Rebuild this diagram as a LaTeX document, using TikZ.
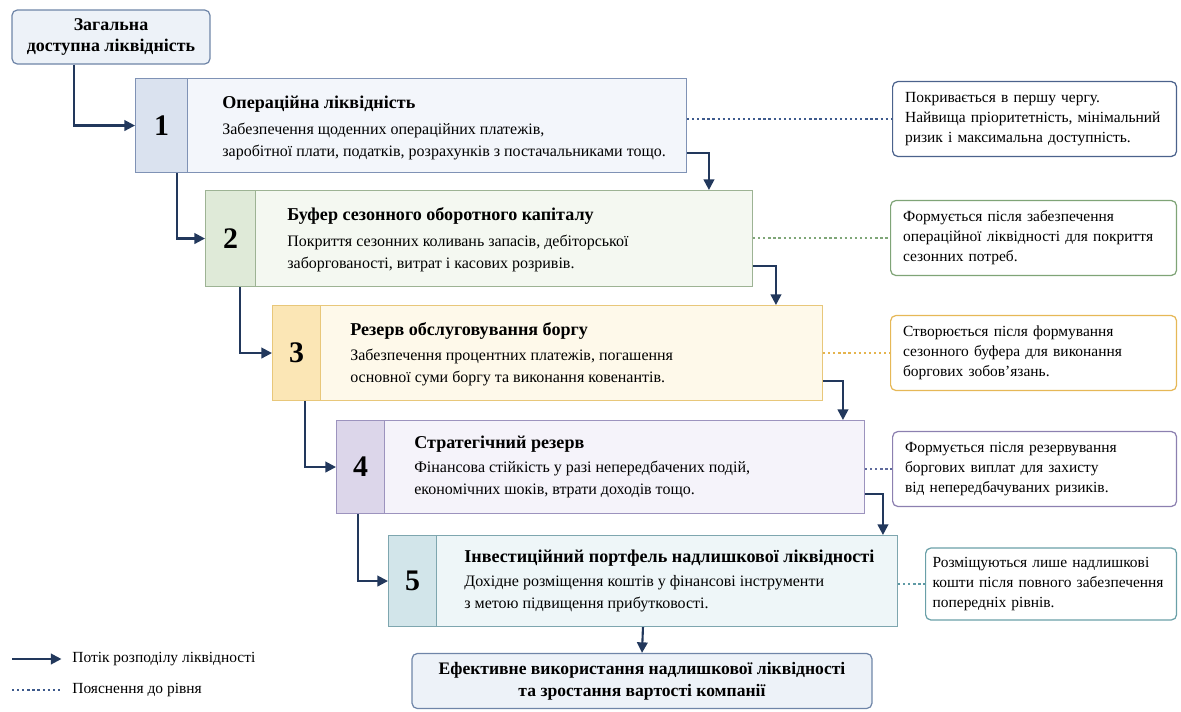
\documentclass[tikz,border=0pt]{standalone}
\usepackage{fontspec}
\setmainfont{Liberation Serif}
\usetikzlibrary{positioning,arrows.meta,calc}
\definecolor{navy}{HTML}{22385C}
% level colours: border, fill, panel
\definecolor{bdA}{HTML}{7F92B5}\definecolor{flA}{HTML}{F3F6FB}\definecolor{pnA}{HTML}{DAE2EF}
\definecolor{bdB}{HTML}{9DB394}\definecolor{flB}{HTML}{F4F8F1}\definecolor{pnB}{HTML}{DFEAD8}
\definecolor{bdC}{HTML}{E8C77A}\definecolor{flC}{HTML}{FEF9EA}\definecolor{pnC}{HTML}{FBE6B5}
\definecolor{bdD}{HTML}{9C93BE}\definecolor{flD}{HTML}{F5F3FA}\definecolor{pnD}{HTML}{DCD6EA}
\definecolor{bdE}{HTML}{7EA6AF}\definecolor{flE}{HTML}{EEF6F8}\definecolor{pnE}{HTML}{D2E5EA}
% note borders and dotted links
\definecolor{ntA}{HTML}{4B628C}\definecolor{dtA}{HTML}{3E5A8C}
\definecolor{ntB}{HTML}{7FA477}\definecolor{dtB}{HTML}{7FA678}
\definecolor{ntC}{HTML}{E6B857}\definecolor{dtC}{HTML}{E5B44E}
\definecolor{ntD}{HTML}{8C80B0}\definecolor{dtD}{HTML}{5F6A9C}
\definecolor{ntE}{HTML}{6AA0A8}\definecolor{dtE}{HTML}{5E9AA5}
\definecolor{srcfl}{HTML}{EDF2F8}\definecolor{srcbd}{HTML}{6F85A8}
\tikzset{
  flow/.style={-{Triangle[length=6pt,width=6pt]},line width=1.2pt,navy},
  expl/.style={line width=1.3pt,dash pattern=on 1.3pt off 1.6pt},
  lvbox/.style={rectangle,draw,line width=0.6pt,anchor=north west,inner sep=0pt},
  numbox/.style={rectangle,draw,line width=0.6pt,anchor=north west,inner sep=0pt,
    font=\bfseries\fontsize{17}{20}\selectfont},
  ttl/.style={anchor=west,inner sep=0pt,font=\bfseries\fontsize{10.3}{12}\selectfont},
  txt/.style={anchor=north west,inner sep=0pt,align=left,font=\fontsize{9.1}{12.4}\selectfont},
  note/.style={rectangle,rounded corners=3pt,draw,line width=0.7pt,fill=white,anchor=west,
    align=left,inner xsep=0.25cm,inner ysep=0pt,minimum height=1.5cm,
    font=\fontsize{8.8}{11.4}\selectfont},
  endbox/.style={rectangle,rounded corners=3pt,draw,line width=0.7pt,align=center,
    font=\bfseries\fontsize{10}{12.5}\selectfont},
  lgd/.style={anchor=west,inner sep=0pt,font=\fontsize{8.8}{10}\selectfont},
}
\begin{document}
\begin{tikzpicture}[x=0.02cm,y=-0.02cm]
  \useasboundingbox (0,0) rectangle (1181,711);
  % source of liquidity
  \node[endbox,draw=srcbd,fill=srcfl,minimum width=3.96cm,minimum height=1.08cm,
    font=\bfseries\fontsize{10.2}{11.6}\selectfont] (src) at (111,37)
    {Загальна\\доступна ліквідність};
  % level 1
  \node[lvbox,draw=bdA,fill=flA,minimum width=11.02cm,minimum height=1.88cm] (lv1) at (135,78) {};
  \node[numbox,draw=bdA,fill=pnA,minimum width=1.04cm,minimum height=1.88cm] (p1) at (lv1.north west) {1};
  \node[ttl] (t1) at (222,104) {Операційна ліквідність};
  \node[txt] (d1) at (222,123) {Забезпечення щоденних операційних платежів,\\
    заробітної плати, податків, розрахунків з постачальниками тощо.};
  % level 2
  \node[lvbox,draw=bdB,fill=flB,minimum width=10.94cm,minimum height=1.92cm] (lv2) at (205,190) {};
  \node[numbox,draw=bdB,fill=pnB,minimum width=1.0cm,minimum height=1.92cm] (p2) at (lv2.north west) {2};
  \node[ttl] (t2) at (287,216) {Буфер сезонного оборотного капіталу};
  \node[txt] (d2) at (287,235) {Покриття сезонних коливань запасів, дебіторської\\
    заборгованості, витрат і касових розривів.};
  % level 3
  \node[lvbox,draw=bdC,fill=flC,minimum width=11.0cm,minimum height=1.9cm] (lv3) at (272,305) {};
  \node[numbox,draw=bdC,fill=pnC,minimum width=0.96cm,minimum height=1.9cm] (p3) at (lv3.north west) {3};
  \node[ttl] (t3) at (350,331) {Резерв обслуговування боргу};
  \node[txt] (d3) at (350,349) {Забезпечення процентних платежів, погашення\\
    основної суми боргу та виконання ковенантів.};
  % level 4
  \node[lvbox,draw=bdD,fill=flD,minimum width=10.56cm,minimum height=1.86cm] (lv4) at (336,420) {};
  \node[numbox,draw=bdD,fill=pnD,minimum width=0.96cm,minimum height=1.86cm] (p4) at (lv4.north west) {4};
  \node[ttl] (t4) at (414,444) {Стратегічний резерв};
  \node[txt] (d4) at (414,461) {Фінансова стійкість у разі непередбачених подій,\\
    економічних шоків, втрати доходів тощо.};
  % level 5
  \node[lvbox,draw=bdE,fill=flE,minimum width=10.18cm,minimum height=1.82cm] (lv5) at (388,535) {};
  \node[numbox,draw=bdE,fill=pnE,minimum width=0.96cm,minimum height=1.82cm] (p5) at (lv5.north west) {5};
  \node[ttl] (t5) at (464,558) {Інвестиційний портфель надлишкової ліквідності};
  \node[txt] (d5) at (464,575) {Дохідне розміщення коштів у фінансові інструменти\\
    з метою підвищення прибутковості.};
  % result
  \node[endbox,draw=srcbd,fill=srcfl,minimum width=9.2cm,minimum height=1.1cm] (fin) at (642,681)
    {Ефективне використання надлишкової ліквідності\\та зростання вартості компанії};
  % notes
  \node[note,draw=ntA,text width=5.18cm] (n1) at (892,119) {Покривається в першу чергу.\\
    Найвища пріоритетність, мінімальний\\ризик і максимальна доступність.};
  \node[note,draw=ntB,text width=5.22cm] (n2) at (890,238) {Формується після забезпечення\\
    операційної ліквідності для покриття\\сезонних потреб.};
  \node[note,draw=ntC,text width=5.22cm] (n3) at (890,353) {Створюється після формування\\
    сезонного буфера для виконання\\боргових зобов’язань.};
  \node[note,draw=ntD,text width=5.18cm] (n4) at (892,469) {Формується після резервування\\
    боргових виплат для захисту\\від непередбачуваних ризиків.};
  \node[note,draw=ntE,text width=4.74cm,inner xsep=0.14cm,minimum height=1.44cm] (n5) at (925,584)
    {Розміщуються лише надлишкові\\кошти після повного забезпечення\\попередніх рівнів.};
  % flow on the left side
  \draw[flow] ([xshift=1.26cm]src.south west) |- (lv1.west);
  \draw[flow] ([xshift=0.84cm]lv1.south west) |- (lv2.west);
  \draw[flow] ([xshift=0.7cm]lv2.south west) |- (lv3.west);
  \draw[flow] ([xshift=0.66cm]lv3.south west) |- (lv4.west);
  \draw[flow] ([xshift=0.44cm]lv4.south west) |- (lv5.west);
  % flow on the right side
  \draw[flow] ([yshift=0.4cm]lv1.south east) -| ([xshift=-0.88cm]lv2.north east);
  \draw[flow] ([yshift=0.42cm]lv2.south east) -| ([xshift=-0.94cm]lv3.north east);
  \draw[flow] ([yshift=0.4cm]lv3.south east) -| ([xshift=-0.44cm]lv4.north east);
  \draw[flow] ([yshift=0.4cm]lv4.south east) -| ([xshift=-0.3cm]lv5.north east);
  \draw[flow] (lv5.south) -- (fin.north);
  % explanations
  \draw[expl,draw=dtA] (lv1.east |- n1.west) -- (n1.west);
  \draw[expl,draw=dtB] (lv2.east |- n2.west) -- (n2.west);
  \draw[expl,draw=dtC] (lv3.east |- n3.west) -- (n3.west);
  \draw[expl,draw=dtD] (lv4.east |- n4.west) -- (n4.west);
  \draw[expl,draw=dtE] (lv5.east |- n5.west) -- (n5.west);
  % legend
  \coordinate (la) at (12,659);
  \coordinate (lb) at (12,690);
  \node[lgd] (lt1) at (72,659) {Потік розподілу ліквідності};
  \node[lgd] (lt2) at (72,690) {Пояснення до рівня};
  \draw[flow] (la) -- ([xshift=-6pt]lt1.west);
  \draw[expl,draw=dtA] (lb) -- ([xshift=-6pt]lt2.west);
\end{tikzpicture}
\end{document}
